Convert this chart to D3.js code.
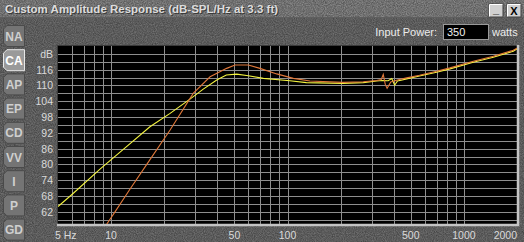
<!DOCTYPE html>
<html>
<head>
<meta charset="utf-8">
<script src="https://cdn.jsdelivr.net/npm/d3@7"></script>
<style>
  body { margin: 0; background: #6e6e6e; overflow: hidden; }
  text { font-family: "Liberation Sans", Arial, sans-serif; }
</style>
</head>
<body>
<div id="chart"></div>
<script>
// values (Hz, dB-SPL)
var freqYellow = [5, 6, 8.65, 12, 16.6, 21.6, 28, 33.3, 39.7, 45, 51.5, 60, 73, 103, 128, 206, 269, 320, 345, 372, 390, 405, 420, 440, 474, 560, 700, 834, 1130, 1468, 1905, 2000];
var dbYellow   = [64.0, 68.6, 78.2, 86.3, 94.3, 99.4, 104.8, 108.6, 112.1, 114.0, 114.3, 113.7, 112.7, 111.8, 111.1, 110.8, 111.1, 111.7, 111.9, 111.8, 112.6, 110.1, 111.7, 112.0, 112.5, 113.6, 115.0, 116.3, 118.8, 120.7, 123.0, 123.9];
var freqOrange = [9.44, 10.5, 12.7, 16, 21.6, 29.2, 36.4, 45.2, 50.4, 60, 69.8, 86.9, 108, 134, 206, 269, 320, 340, 349, 358, 367, 385, 430, 474, 560, 700, 834, 1130, 1468, 1905, 2000];
var dbOrange   = [57.3, 61.9, 70.3, 80.2, 93.1, 107.0, 113.3, 116.5, 117.8, 117.8, 116.5, 114.4, 112.7, 111.7, 111.2, 111.4, 111.9, 112.3, 114.2, 110.5, 108.9, 111.3, 112.3, 112.9, 113.9, 115.4, 116.7, 119.2, 121.1, 123.4, 124.2];

var dbTicks = [116, 110, 104, 98, 92, 86, 80, 74, 68, 62];
var hzTicks = [5, 10, 50, 100, 500, 1000, 2000];
var hzLabels = ["5 Hz", "10", "50", "100", "500", "1000", "2000"];
var tabs = ["NA", "CA", "AP", "EP", "CD", "VV", "I", "P", "GD"];
var selectedTab = "CA";
var title = "Custom Amplitude Response (dB-SPL/Hz at 3.3 ft)";
var inputPower = "350";

var width = 524, height = 242;
var Plot = { left: 58, right: 517, top: 46, bottom: 224 };

var svg = d3.select("#chart").append("svg")
    .attr("width", width)
    .attr("height", height);

var defs = svg.append("defs");
var noise = defs.append("filter").attr("id", "noise")
    .attr("x", 0).attr("y", 0).attr("width", "100%").attr("height", "100%");
noise.append("feTurbulence")
    .attr("type", "fractalNoise")
    .attr("baseFrequency", 0.9)
    .attr("numOctaves", 2)
    .attr("seed", 3)
    .attr("result", "t");
noise.append("feColorMatrix")
    .attr("type", "matrix")
    .attr("values", "0 0 0 0 0  0 0 0 0 0  0 0 0 0 0  0 0 0 0.6 -0.1");

defs.append("clipPath").attr("id", "plotClip")
  .append("rect")
    .attr("x", Plot.left).attr("y", Plot.top)
    .attr("width", Plot.right - Plot.left)
    .attr("height", Plot.bottom - Plot.top);

// panel + title bar
svg.append("rect").attr("width", width).attr("height", height).attr("fill", "#727272");
svg.append("rect").attr("width", width).attr("height", 17).attr("fill", "#8c8c8c");
svg.append("rect").attr("width", width).attr("height", height).attr("filter", "url(#noise)");
svg.append("line").attr("x1", 0).attr("x2", width).attr("y1", 17.5).attr("y2", 17.5)
    .attr("stroke", "#5e5e5e");

svg.append("text").attr("x", 6).attr("y", 14).attr("fill", "#3a3a3a")
    .attr("font-size", 11.5).attr("font-weight", "bold").text(title);
svg.append("text").attr("x", 5).attr("y", 13).attr("fill", "#dcdcdc")
    .attr("font-size", 11.5).attr("font-weight", "bold").text(title);

// window buttons
var winButtons = svg.append("g").selectAll("g")
    .data(["_", "X"]).enter().append("g")
    .attr("transform", (d, i) => `translate(${489 + i * 18}, ${4})`);
winButtons.append("rect").attr("width", 14).attr("height", 13)
    .attr("fill", "#d0d0d0").attr("stroke", "#404040");
winButtons.append("path").attr("d", "M0.5,12.5 V0.5 H13.5").attr("fill", "none").attr("stroke", "#ffffff");
winButtons.append("text")
    .attr("x", 7).attr("y", (d) => d == "_" ? 9 : 11)
    .attr("text-anchor", "middle").attr("font-size", 11).attr("font-weight", "bold")
    .attr("fill", "#000").text(d => d);

// input power
svg.append("text").attr("x", 437).attr("y", 36).attr("text-anchor", "end")
    .attr("font-size", 11).attr("fill", "#ececec").text("Input Power:");
svg.append("rect").attr("x", 443.5).attr("y", 24.5).attr("width", 45).attr("height", 15)
    .attr("fill", "#000").attr("stroke", "#9a9a9a");
svg.append("text").attr("x", 447).attr("y", 36).attr("font-size", 11)
    .attr("fill", "#f0f0f0").text(inputPower);
svg.append("text").attr("x", 492).attr("y", 36).attr("font-size", 11)
    .attr("fill", "#ececec").text("watts");

// left tabs
var tabGroup = svg.append("g").selectAll("g")
    .data(tabs).enter().append("g")
    .attr("transform", (d, i) => `translate(${3}, ${25 + i * 24.2})`);
tabGroup.append("path")
    .attr("d", "M4,0.5 H21.5 V21.5 H4 L0.5,18 V4 Z")
    .attr("fill", d => d == selectedTab ? "#9a9a9a" : "#747474")
    .attr("stroke", d => d == selectedTab ? "#e8e8e8" : "#4a4a4a");
tabGroup.append("text")
    .attr("x", 11).attr("y", 15.5)
    .attr("text-anchor", "middle")
    .attr("font-size", 12).attr("font-weight", "bold")
    .attr("fill", d => d == selectedTab ? "#ffffff" : "#cfcfcf")
    .text(d => d);

// plot
var x = d3.scaleLog().domain([5, 2000]).range([Plot.left, Plot.right]);
var y = d3.scaleLinear().domain([57, 125]).range([225, 46]);

svg.append("rect")
    .attr("x", Plot.left).attr("y", Plot.top)
    .attr("width", Plot.right - Plot.left).attr("height", Plot.bottom - Plot.top)
    .attr("fill", "#000");

var grid = svg.append("g").attr("clip-path", "url(#plotClip)")
    .attr("stroke", "#8e8e8e").attr("shape-rendering", "crispEdges");
grid.selectAll(".vgrid")
    .data(x.ticks().filter(d => d > 5 && d < 2000))
    .enter().append("line")
    .attr("class", "vgrid")
    .attr("x1", d => Math.round(x(d)) + 0.5).attr("x2", d => Math.round(x(d)) + 0.5)
    .attr("y1", Plot.top).attr("y2", Plot.bottom);
grid.selectAll(".hgrid")
    .data(d3.range(59, 125, 3))
    .enter().append("line")
    .attr("class", "hgrid")
    .attr("y1", d => Math.round(y(d)) + 0.5).attr("y2", d => Math.round(y(d)) + 0.5)
    .attr("x1", Plot.left).attr("x2", Plot.right);

// bevel
svg.append("path")
    .attr("d", `M${Plot.left - 0.5},${Plot.bottom + 1} V${Plot.top - 0.5} H${Plot.right + 1}`)
    .attr("fill", "none").attr("stroke", "#3a3a3a");
svg.append("path")
    .attr("d", `M${Plot.left - 1},${Plot.bottom + 1} H${Plot.right + 1} V${Plot.top - 1}`)
    .attr("fill", "none").attr("stroke", "#c4c4c4").attr("stroke-width", 2.5);

var line = d3.line().x(d => x(d[0])).y(d => y(d[1]));
var curves = svg.append("g").attr("clip-path", "url(#plotClip)").attr("fill", "none");
curves.append("path")
    .datum(d3.zip(freqYellow, dbYellow))
    .attr("d", line).attr("stroke", "#f4f440").attr("stroke-width", 1.1);
curves.append("path")
    .datum(d3.zip(freqOrange, dbOrange))
    .attr("d", line).attr("stroke", "#e0783a").attr("stroke-width", 1.1);

// axis labels
var yLabels = svg.append("g").attr("font-size", 10.5).attr("fill", "#dadada").attr("text-anchor", "end");
yLabels.selectAll("text")
    .data(dbTicks).enter().append("text")
    .attr("x", 53).attr("y", d => y(d) + 4)
    .text(d => d);
yLabels.append("text").attr("x", 53).attr("y", y(122) + 4).text("dB");

svg.append("g").attr("font-size", 10.5).attr("fill", "#dadada")
  .selectAll("text")
    .data(hzTicks).enter().append("text")
    .attr("x", (d, i) => i == 0 ? 55 : i == hzTicks.length - 1 ? Plot.right : x(d))
    .attr("y", 239)
    .attr("text-anchor", (d, i) => i == 0 ? "start" : i == hzTicks.length - 1 ? "end" : "middle")
    .text((d, i) => hzLabels[i]);
</script>
</body>
</html>
